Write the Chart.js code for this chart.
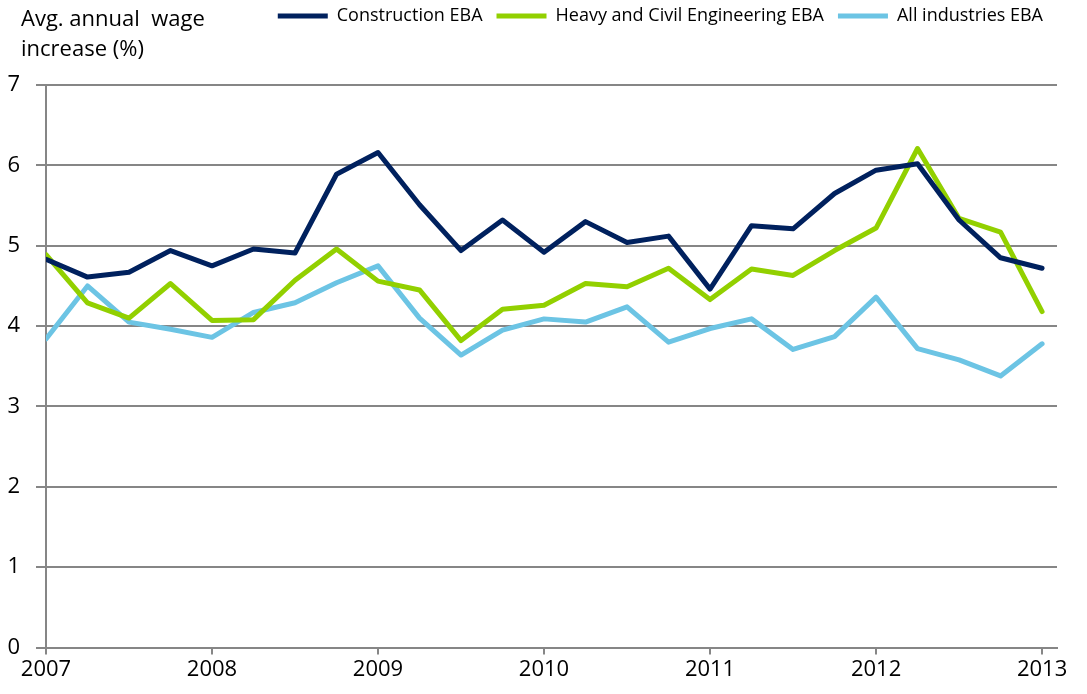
<!DOCTYPE html>
<html>
<head>
<meta charset="utf-8">
<script src="https://cdn.jsdelivr.net/npm/chart.js@4"></script>
<style>
  html, body { margin: 0; padding: 0; background: #fff; }
  #wrap { width: 1087px; height: 694px; }
</style>
</head>
<body>
<div id="wrap"><canvas id="wages"></canvas></div>
<script>
// quarterly observations, March 2007 .. March 2013
const quarters = [
    2007, 2007.25, 2007.5, 2007.75,
    2008, 2008.25, 2008.5, 2008.75,
    2009, 2009.25, 2009.5, 2009.75,
    2010, 2010.25, 2010.5, 2010.75,
    2011, 2011.25, 2011.5, 2011.75,
    2012, 2012.25, 2012.5, 2012.75,
    2013
];
const construction = [4.83, 4.61, 4.67, 4.94, 4.75, 4.96, 4.91, 5.89, 6.16, 5.51, 4.94, 5.32, 4.92,
    5.30, 5.04, 5.12, 4.46, 5.25, 5.21, 5.65, 5.94, 6.02, 5.32, 4.85, 4.72];
const heavyCivil = [4.89, 4.29, 4.10, 4.53, 4.07, 4.08, 4.57, 4.96, 4.56, 4.45, 3.82, 4.21, 4.26,
    4.53, 4.49, 4.72, 4.33, 4.71, 4.63, 4.94, 5.22, 6.21, 5.34, 5.17, 4.18];
const allIndustries = [3.84, 4.50, 4.05, 3.96, 3.86, 4.17, 4.29, 4.54, 4.75, 4.10, 3.64, 3.95, 4.09,
    4.05, 4.24, 3.80, 3.97, 4.09, 3.71, 3.87, 4.36, 3.72, 3.58, 3.38, 3.78];
const seriesNames = ['Construction EBA', 'Heavy and Civil Engineering EBA', 'All industries EBA'];
const yTicks = [0, 1, 2, 3, 4, 5, 6, 7];

const font = "'Open Sans', 'DejaVu Sans', sans-serif";
const navy = 'rgb(0, 33, 94)';
const green = 'rgb(146, 208, 0)';
const sky = 'rgb(108, 196, 228)';
const gridGrey = 'rgb(134, 134, 134)';

function toPoints(values) {
    return values.map((v, i) => ({ x: quarters[i], y: v }));
}

// title sits top-left, outside the legend row
const cornerTitle = {
    id: 'cornerTitle',
    afterDraw(chart) {
        const ctx = chart.ctx;
        ctx.save();
        ctx.fillStyle = '#000';
        ctx.font = "22px " + font;
        ctx.textBaseline = 'alphabetic';
        ctx.fillText('Avg. annual  wage', 21, 26);
        ctx.fillText('increase (%)', 21, 56);
        ctx.restore();
    }
};

// extra room under the legend before the plot starts
const legendGap = {
    id: 'legendGap',
    beforeInit(chart) {
        const origFit = chart.legend.fit;
        chart.legend.fit = function () {
            origFit.bind(chart.legend)();
            this.height += 50;
        };
    }
};

new Chart(document.getElementById('wages'), {
    type: 'line',
    data: {
        datasets: [
            { label: seriesNames[0], data: toPoints(construction), borderColor: navy, backgroundColor: navy },
            { label: seriesNames[1], data: toPoints(heavyCivil), borderColor: green, backgroundColor: green },
            { label: seriesNames[2], data: toPoints(allIndustries), borderColor: sky, backgroundColor: sky }
        ]
    },
    options: {
        responsive: true,
        maintainAspectRatio: false,
        animation: false,
        layout: { padding: { left: 0, right: 30, top: -7, bottom: 9 } },
        elements: {
            line: { borderWidth: 5, tension: 0, borderCapStyle: 'round', borderJoinStyle: 'round' },
            point: { radius: 0, hoverRadius: 0 }
        },
        plugins: {
            tooltip: { enabled: false },
            legend: {
                position: 'top',
                align: 'end',
                labels: {
                    font: { family: font, size: 18 },
                    color: '#000',
                    boxWidth: 50,
                    boxHeight: 5,
                    padding: 14,
                    useBorderRadius: true,
                    borderRadius: 2.5,
                    generateLabels(chart) {
                        return chart.data.datasets.map((ds, i) => ({
                            text: ds.label,
                            fillStyle: ds.borderColor,
                            strokeStyle: ds.borderColor,
                            lineWidth: 0,
                            fontColor: '#000',
                            datasetIndex: i,
                            hidden: false
                        }));
                    }
                }
            }
        },
        scales: {
            x: {
                type: 'linear',
                min: 2007,
                max: 2013.09,
                border: { color: gridGrey, width: 2 },
                grid: { drawOnChartArea: false, color: gridGrey, lineWidth: 2, tickLength: 7 },
                ticks: {
                    stepSize: 1,
                    includeBounds: false,
                    color: '#000',
                    font: { family: font, size: 22 },
                    padding: 2,
                    maxRotation: 0,
                    callback: v => String(v)
                }
            },
            y: {
                min: 0,
                max: 7,
                afterBuildTicks(axis) {
                    axis.ticks = yTicks.map(v => ({ value: v }));
                },
                afterFit(axis) {
                    axis.width = 46;
                },
                border: { color: gridGrey, width: 2 },
                grid: { color: gridGrey, lineWidth: 2, tickLength: 10 },
                ticks: {
                    color: '#000',
                    font: { family: font, size: 22 },
                    padding: 16
                }
            }
        }
    },
    plugins: [cornerTitle, legendGap]
});
</script>
</body>
</html>
